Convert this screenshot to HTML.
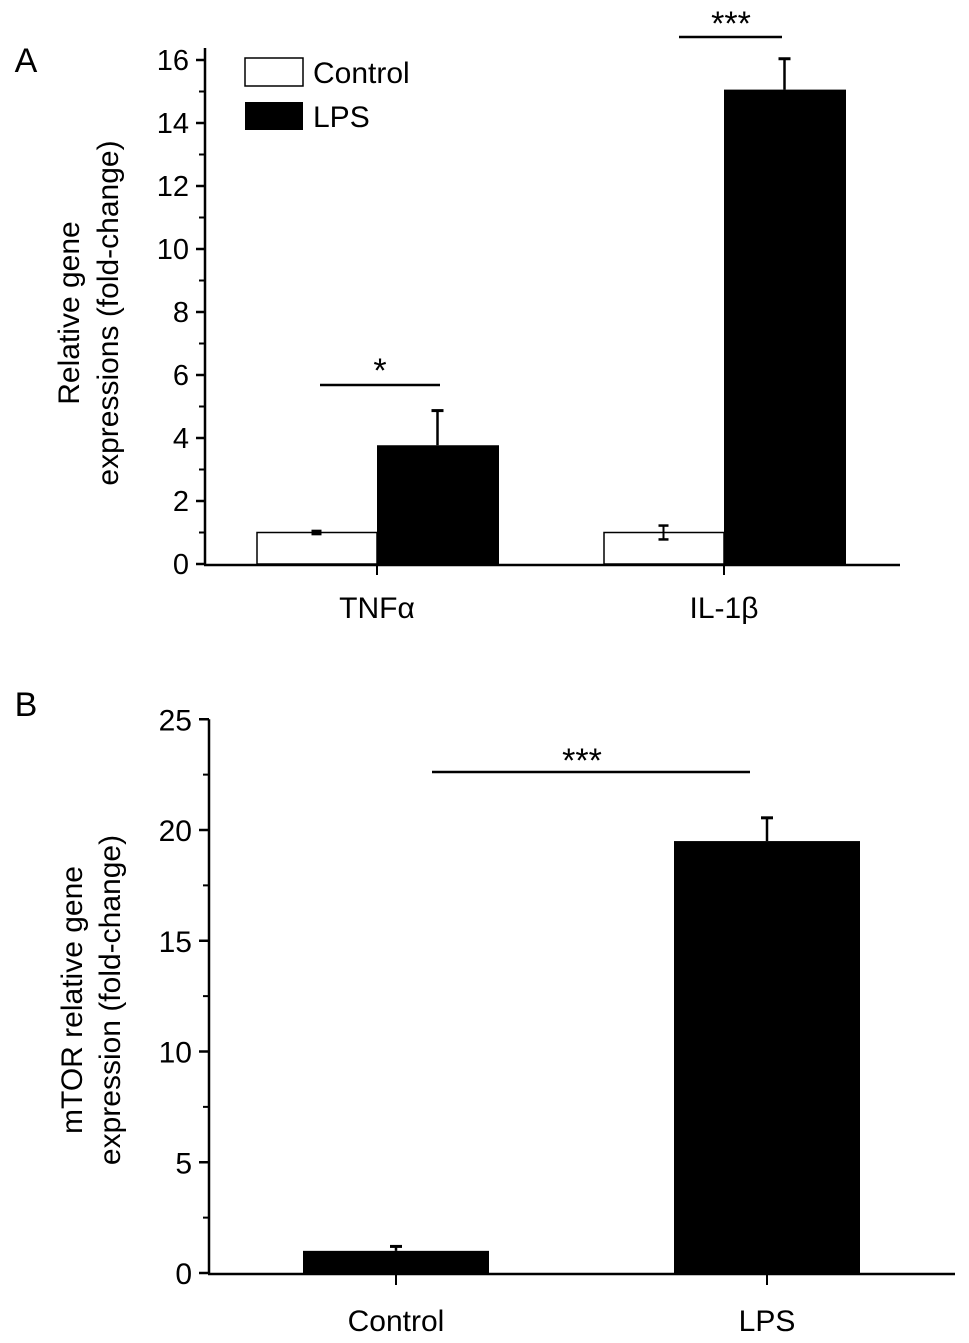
<!DOCTYPE html>
<html><head><meta charset="utf-8"><style>
html,body{margin:0;padding:0;background:#fff}
svg{display:block;font-family:"Liberation Sans",Arial,sans-serif}
</style></head><body>
<svg id="chart" width="969" height="1343" viewBox="0 0 969 1343"></svg>
<script>
// Panel A data
const catsA = ["TNF\u03b1", "IL-1\u03b2"];
const controlA = [1.0, 1.0];
const controlErrA = [0.05, 0.22];
const lpsA = [3.77, 15.06];
const lpsErrA = [1.1, 0.98];
const ticksA = [0, 2, 4, 6, 8, 10, 12, 14, 16];
// Panel B data
const catsB = ["Control", "LPS"];
const valsB = [1.0, 19.5];
const errB = [0.2, 1.05];
const ticksB = [0, 5, 10, 15, 20, 25];

const NS = "http://www.w3.org/2000/svg";
const svg = document.getElementById("chart");
function mk(tag, attrs, parent) {
  const e = document.createElementNS(NS, tag);
  for (const k in attrs) e.setAttribute(k, attrs[k]);
  (parent || svg).appendChild(e);
  return e;
}
function txt(s, x, y, size, anchor, parent) {
  const t = mk("text", {x: x, y: y, "font-size": size, "text-anchor": anchor || "middle", fill: "#000"}, parent);
  t.textContent = s;
  return t;
}

// ---------- Panel A ----------
const gA = mk("g", {});


const yA = v => 564 - v * 31.5;
const axXA = 205;
const groupCenterA = [377, 724];
const bwA = 121;
txt("A", 26, 72, 34, "middle", gA);
mk("line", {x1: axXA, y1: yA(16) - 12, x2: axXA, y2: 565, stroke: "#000", "stroke-width": 2.5}, gA);
mk("line", {x1: axXA - 1, y1: 565, x2: 900, y2: 565, stroke: "#000", "stroke-width": 2.5}, gA);
ticksA.forEach(v => {
  mk("line", {x1: axXA - 9, y1: yA(v), x2: axXA, y2: yA(v), stroke: "#000", "stroke-width": 2.5}, gA);
  const t = txt(String(v), axXA - 16, yA(v) + 10, 29, "end", gA);
  
  if (v < 16) mk("line", {x1: axXA - 6, y1: yA(v + 1), x2: axXA, y2: yA(v + 1), stroke: "#000", "stroke-width": 2}, gA);
});
const ytA = txt("Relative gene", 0, 0, 30, "middle", gA);
ytA.setAttribute("transform", "translate(79,313) rotate(-90)");

const ytA2 = txt("expressions (fold-change)", 0, 0, 30, "middle", gA);
ytA2.setAttribute("transform", "translate(118,313) rotate(-90)");

catsA.forEach((c, i) => {
  const cx = groupCenterA[i];
  mk("line", {x1: cx, y1: 565, x2: cx, y2: 575, stroke: "#000", "stroke-width": 2}, gA);
  const l = txt(c, cx, 618, 30, "middle", gA);
  
  const b1 = mk("rect", {x: cx - bwA + 1, y: yA(controlA[i]), width: bwA - 1, height: yA(0) - yA(controlA[i]), fill: "#fff", stroke: "#000", "stroke-width": 1.5}, gA);
  
  
  const ex = cx - bwA / 2;
  mk("line", {x1: ex, y1: yA(controlA[i] - controlErrA[i]), x2: ex, y2: yA(controlA[i] + controlErrA[i]), stroke: "#000", "stroke-width": 2}, gA);
  mk("line", {x1: ex - 5, y1: yA(controlA[i] + controlErrA[i]), x2: ex + 5, y2: yA(controlA[i] + controlErrA[i]), stroke: "#000", "stroke-width": 2.5}, gA);
  mk("line", {x1: ex - 5, y1: yA(controlA[i] - controlErrA[i]), x2: ex + 5, y2: yA(controlA[i] - controlErrA[i]), stroke: "#000", "stroke-width": 2.5}, gA);
  const b2 = mk("rect", {x: cx, y: yA(lpsA[i]), width: bwA + 1, height: yA(0) - yA(lpsA[i]), fill: "#000"}, gA);
  
  
  const ex2 = cx + bwA / 2;
  mk("line", {x1: ex2, y1: yA(lpsA[i]), x2: ex2, y2: yA(lpsA[i] + lpsErrA[i]), stroke: "#000", "stroke-width": 2.5}, gA);
  mk("line", {x1: ex2 - 6, y1: yA(lpsA[i] + lpsErrA[i]), x2: ex2 + 6, y2: yA(lpsA[i] + lpsErrA[i]), stroke: "#000", "stroke-width": 3}, gA);
});
// significance
mk("line", {x1: 320, y1: 385, x2: 440, y2: 385, stroke: "#000", "stroke-width": 2.5}, gA);
txt("*", 380, 382, 34, "middle", gA);
mk("line", {x1: 679, y1: 37, x2: 782, y2: 37, stroke: "#000", "stroke-width": 2.5}, gA);
txt("***", 731, 35, 34, "middle", gA);
// legend
const lg = mk("g", {}, gA);


mk("rect", {x: 245, y: 58, width: 58, height: 28, fill: "#fff", stroke: "#000", "stroke-width": 1.5}, lg);
txt("Control", 313, 83, 30, "start", lg);
mk("rect", {x: 245, y: 102, width: 58, height: 28, fill: "#000"}, lg);
txt("LPS", 313, 127, 30, "start", lg);

// ---------- Panel B ----------
const gB = mk("g", {});


const yB = v => 1273 - v * 22.15;
const axXB = 209;
const centersB = [396, 767];
const bwB = 186;
txt("B", 26, 716, 34, "middle", gB);
mk("line", {x1: axXB, y1: yB(25), x2: axXB, y2: 1274, stroke: "#000", "stroke-width": 2.5}, gB);
mk("line", {x1: axXB - 1, y1: 1274, x2: 955, y2: 1274, stroke: "#000", "stroke-width": 2.5}, gB);
ticksB.forEach(v => {
  mk("line", {x1: axXB - 10, y1: yB(v), x2: axXB, y2: yB(v), stroke: "#000", "stroke-width": 2.5}, gB);
  const t = txt(String(v), axXB - 17, yB(v) + 11, 30, "end", gB);
  
  if (v < 25) mk("line", {x1: axXB - 6, y1: yB(v + 2.5), x2: axXB, y2: yB(v + 2.5), stroke: "#000", "stroke-width": 2}, gB);
});
const ytB = txt("mTOR relative gene", 0, 0, 30, "middle", gB);
ytB.setAttribute("transform", "translate(82,1000) rotate(-90)");

const ytB2 = txt("expression (fold-change)", 0, 0, 30, "middle", gB);
ytB2.setAttribute("transform", "translate(120,1000) rotate(-90)");

catsB.forEach((c, i) => {
  const cx = centersB[i];
  mk("line", {x1: cx, y1: 1274, x2: cx, y2: 1285, stroke: "#000", "stroke-width": 2}, gB);
  txt(c, cx, 1331, 30, "middle", gB);
  const b = mk("rect", {x: cx - bwB / 2, y: yB(valsB[i]), width: bwB, height: yB(0) - yB(valsB[i]), fill: "#000"}, gB);
  
  
  mk("line", {x1: cx, y1: yB(valsB[i]), x2: cx, y2: yB(valsB[i] + errB[i]), stroke: "#000", "stroke-width": 2.5}, gB);
  mk("line", {x1: cx - 6, y1: yB(valsB[i] + errB[i]), x2: cx + 6, y2: yB(valsB[i] + errB[i]), stroke: "#000", "stroke-width": 3}, gB);
});
mk("line", {x1: 432, y1: 772, x2: 750, y2: 772, stroke: "#000", "stroke-width": 2.5}, gB);
txt("***", 582, 772, 34, "middle", gB);
</script>
</body></html>
